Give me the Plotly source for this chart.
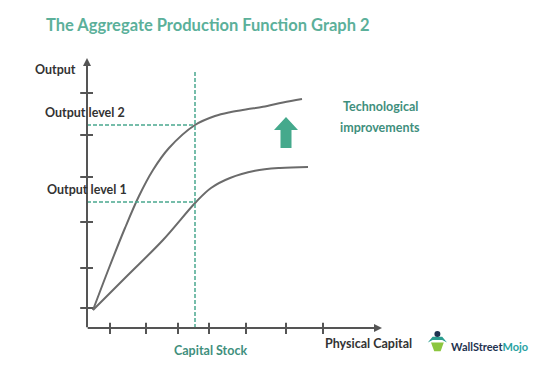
import plotly.graph_objects as go

# ---- data (chart units: capital on x, output on y) ----
capital_ticks = [0.575, 1.475, 2.275, 3.05, 3.975, 4.975, 5.9]
output_ticks = [0.5, 1.5, 2.65, 3.775, 4.825, 5.875]

upper_x = [0.15, 0.55, 0.95, 1.3, 1.65, 2.05, 2.7, 3.2, 3.6, 4.0, 4.4, 4.9, 5.375]
upper_y = [0.45, 1.5, 2.5, 3.3, 3.95, 4.5, 5.075, 5.3, 5.4, 5.47, 5.53, 5.64, 5.725]

lower_x = [0.15, 1.0, 1.9, 2.725, 3.1, 3.575, 4.2, 4.825, 5.525]
lower_y = [0.45, 1.3, 2.2, 3.15, 3.5, 3.75, 3.93, 4.0, 4.025]

capital_stock = 2.7
output_level_1 = 3.15
output_level_2 = 5.075
y_axis_top = 6.75
x_axis_end = 7.375
dashed_top = 6.45

OFF = 8                      # page body margin
W, H = 542 - OFF, 371 - OFF
X0, Y0, S = 87 - OFF, 328 - OFF, 40  # origin pixel and pixels per unit

AXIS = "#555555"
CURVE = "#6b6b6b"
TEAL = "#4aa88f"
TEAL_TXT = "#3f8f7d"
DARK = "#333333"

fig = go.Figure()

# curves
fig.add_trace(go.Scatter(x=upper_x, y=upper_y, mode="lines",
                         line=dict(color=CURVE, width=2, shape="spline", smoothing=1.0),
                         hoverinfo="skip"))
fig.add_trace(go.Scatter(x=lower_x, y=lower_y, mode="lines",
                         line=dict(color=CURVE, width=2, shape="spline", smoothing=1.0),
                         hoverinfo="skip"))

# dashed guides
fig.add_trace(go.Scatter(x=[capital_stock, capital_stock], y=[0, dashed_top], mode="lines",
                         line=dict(color=TEAL, width=1.5, dash="4px,2px"), hoverinfo="skip"))
for lvl in (output_level_1, output_level_2):
    fig.add_trace(go.Scatter(x=[0, capital_stock], y=[lvl, lvl], mode="lines",
                             line=dict(color=TEAL, width=1.5, dash="4px,2px"), hoverinfo="skip"))

# tick marks
tx, ty = [], []
for v in capital_ticks:
    tx += [v, v, None]
    ty += [-0.15, 0.13, None]
for v in output_ticks:
    tx += [-0.17, 0.15, None]
    ty += [v, v, None]
fig.add_trace(go.Scatter(x=tx, y=ty, mode="lines", line=dict(color=AXIS, width=2),
                         hoverinfo="skip"))

# green up arrow (technological improvement)
ax_c, a_top, a_base, a_bot, hw, sw = 4.975, 5.275, 4.95, 4.5, 0.3, 0.1375
fig.add_trace(go.Scatter(
    x=[ax_c, ax_c + hw, ax_c + sw, ax_c + sw, ax_c - sw, ax_c - sw, ax_c - hw, ax_c],
    y=[a_top, a_base, a_base, a_bot, a_bot, a_base, a_base, a_top],
    mode="lines", fill="toself", fillcolor="#45a98c", line=dict(width=0, color="#45a98c"),
    hoverinfo="skip"))

# logo icon (simple)
fig.add_trace(go.Scatter(
    x=[8.6, 8.92, 8.84, 8.68, 8.6], y=[-0.36, -0.36, -0.58, -0.58, -0.36],
    mode="lines", fill="toself", fillcolor="#8cc63f", line=dict(width=0, color="#8cc63f"),
    hoverinfo="skip"))
fig.add_trace(go.Scatter(
    x=[8.52, 8.64, 8.88, 9.0, 8.88, 8.64, 8.52], y=[-0.36, -0.22, -0.22, -0.36, -0.3, -0.3, -0.36],
    mode="lines", fill="toself", fillcolor="#2a9d8f", line=dict(width=0, color="#2a9d8f"),
    hoverinfo="skip"))
fig.add_trace(go.Scatter(
    x=[8.76], y=[-0.15], mode="markers", marker=dict(size=6, color="#1f3350"),
    hoverinfo="skip"))

annotations = []
# axis arrows
annotations.append(dict(x=0, y=y_axis_top, ax=0, ay=-0.02, xref="x", yref="y", axref="x", ayref="y",
                        text="", showarrow=True, arrowhead=2, arrowsize=0.8, arrowwidth=2,
                        arrowcolor=AXIS))
annotations.append(dict(x=x_axis_end, y=0, ax=-0.02, ay=0, xref="x", yref="y", axref="x", ayref="y",
                        text="", showarrow=True, arrowhead=2, arrowsize=0.8, arrowwidth=2,
                        arrowcolor=AXIS))


def px_text(text, x, y, size=12.5, color=DARK, xanchor="left", family="Lato"):
    annotations.append(dict(text=text, x=(x - OFF) / W, y=1 - (y - OFF) / H,
                            xref="paper", yref="paper",
                            xanchor=xanchor, yanchor="middle", showarrow=False,
                            font=dict(family=family, size=size, color=color)))


px_text("<b>The Aggregate Production Function Graph 2</b>", 44, 25, size=16.5, color="#5bb09a")
px_text("<b>Output</b>", 33, 69)
px_text("<b>Output level 2</b>", 43, 113)
px_text("<b>Output level 1</b>", 45, 190)
px_text("<b>Capital Stock</b>", 210, 350, color=TEAL_TXT, xanchor="center")
px_text("<b>Physical Capital</b>", 323, 343)
px_text("<b>Technological</b>", 380, 107, color=TEAL_TXT, xanchor="center")
px_text("<b>improvements</b>", 380, 127, color=TEAL_TXT, xanchor="center")
px_text("<b>WallStreet<span style='color:#2aa3a3'>Mojo</span></b>", 449, 346, size=11,
        color="#1f3350")

fig.update_layout(
    width=W, height=H,
    margin=dict(l=0, r=0, t=0, b=0, pad=0),
    paper_bgcolor="white", plot_bgcolor="white",
    showlegend=False,
    xaxis=dict(range=[-X0 / S, (W - X0) / S], visible=False, fixedrange=True),
    yaxis=dict(range=[(Y0 - H) / S, Y0 / S], visible=False, fixedrange=True),
    annotations=annotations,
)

fig.write_html("out.html")
